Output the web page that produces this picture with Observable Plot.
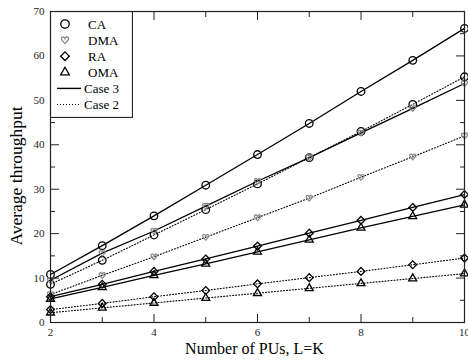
<!DOCTYPE html>
<html>
<head>
<meta charset="utf-8">
<script src="https://cdn.jsdelivr.net/npm/d3@7"></script>
<script src="https://cdn.jsdelivr.net/npm/@observablehq/plot@0.6"></script>
<style>
  html, body { margin: 0; padding: 0; background: #fff; }
  #wrap { position: relative; width: 468px; height: 363px; font-family: "Liberation Serif", "Times New Roman", serif; }
  #legend { position: absolute; left: 50px; top: 11px; }
</style>
</head>
<body>
<div id="wrap"></div>
<script>
// Number of PUs (L = K)
const pus = [2, 3, 4, 5, 6, 7, 8, 9, 10];

// Case 3 (solid lines)
const caCase3  = [10.8, 17.3, 24.0, 30.9, 37.8, 44.8, 52.0, 59.0, 66.2];
const dmaCase3 = [9.5, 15.6, 20.6, 26.2, 31.8, 37.1, 42.7, 48.2, 53.8];
const raCase3  = [5.8, 8.6, 11.5, 14.3, 17.2, 20.1, 23.0, 25.9, 28.8];
const omaCase3 = [5.3, 7.9, 10.6, 13.2, 15.9, 18.6, 21.3, 23.9, 26.5];

// Case 2 (dotted lines)
const caCase2  = [8.6, 14.0, 19.7, 25.4, 31.2, 37.1, 43.0, 49.1, 55.3];
const dmaCase2 = [6.3, 10.6, 14.8, 19.2, 23.6, 28.0, 32.7, 37.3, 42.0];
const raCase2  = [2.9, 4.3, 5.8, 7.2, 8.7, 10.1, 11.5, 13.0, 14.5];
const omaCase2 = [2.2, 3.3, 4.4, 5.5, 6.6, 7.7, 8.8, 9.9, 11.0];

// Tick values
const xMajor = [2, 4, 6, 8, 10];
const xMinor = [3, 5, 7, 9];
const yMajor = [0, 10, 20, 30, 40, 50, 60, 70];
const yMinor = [5, 15, 25, 35, 45, 55, 65];

const schemes = ["CA", "DMA", "RA", "OMA"];
const cases = ["Case 3", "Case 2"];

// heart-shaped custom symbol
const heart = {
  draw(ctx, size) {
    const s = Math.sqrt(size / Math.PI);
    ctx.moveTo(0, s * 0.95);
    ctx.bezierCurveTo(-s * 0.35, s * 0.55, -s, s * 0.05, -s, -s * 0.4);
    ctx.bezierCurveTo(-s, -s * 0.95, -s * 0.2, -s * 1.05, 0, -s * 0.45);
    ctx.bezierCurveTo(s * 0.2, -s * 1.05, s, -s * 0.95, s, -s * 0.4);
    ctx.bezierCurveTo(s, s * 0.05, s * 0.35, s * 0.55, 0, s * 0.95);
    ctx.closePath();
  }
};

const symbolOf = {CA: d3.symbolCircle, DMA: heart, RA: d3.symbolDiamond2, OMA: d3.symbolTriangle2};
const colorOf = {CA: "#000", DMA: "#8a8a8a", RA: "#000", OMA: "#000"};
const rOf = {CA: 3.8, DMA: 3.1, RA: 3.5, OMA: 3.8};

const seriesValues = {
  "CA|Case 3": caCase3, "DMA|Case 3": dmaCase3, "RA|Case 3": raCase3, "OMA|Case 3": omaCase3,
  "CA|Case 2": caCase2, "DMA|Case 2": dmaCase2, "RA|Case 2": raCase2, "OMA|Case 2": omaCase2
};

const rows = [];
for (const c of cases) for (const s of schemes) {
  seriesValues[s + "|" + c].forEach((v, i) => rows.push({scheme: s, case: c, x: pus[i], y: v, key: s + "|" + c}));
}

const font = "Liberation Serif";

const lineMarks = cases.map(c => Plot.line(rows.filter(d => d.case === c), {
  x: "x", y: "y", z: "key",
  stroke: "#000",
  strokeWidth: c === "Case 3" ? 1.3 : 1.1,
  strokeDasharray: c === "Case 3" ? null : "1,2"
}));

const dotMarks = schemes.map(s => Plot.dot(rows.filter(d => d.scheme === s), {
  x: "x", y: "y",
  symbol: () => symbolOf[s],
  r: rOf[s],
  stroke: colorOf[s],
  fill: "none",
  strokeWidth: 1.3
}));

const chart = Plot.plot({
  width: 468,
  height: 363,
  marginLeft: 50,
  marginRight: 4,
  marginTop: 11,
  marginBottom: 41,
  style: {fontFamily: font, background: "#fff", color: "#000"},
  x: {domain: [2, 10], label: null},
  y: {domain: [0, 70], label: null},
  symbol: {type: "identity"},
  marks: [
    ...lineMarks,
    ...dotMarks,
    // inward ticks, mirrored on all four sides
    Plot.axisX(xMajor, {anchor: "bottom", tickSize: -8, fill: "none", stroke: "#222", label: null}),
    Plot.axisX(xMinor, {anchor: "bottom", tickSize: -5, fill: "none", stroke: "#222", label: null}),
    Plot.axisX(xMajor, {anchor: "top", tickSize: -8, fill: "none", stroke: "#222", label: null}),
    Plot.axisX(xMinor, {anchor: "top", tickSize: -5, fill: "none", stroke: "#222", label: null}),
    Plot.axisY(yMajor, {anchor: "left", tickSize: -9, fill: "none", stroke: "#222", label: null}),
    Plot.axisY(yMinor, {anchor: "left", tickSize: -5, fill: "none", stroke: "#222", label: null}),
    Plot.axisY(yMajor, {anchor: "right", tickSize: -9, fill: "none", stroke: "#222", label: null}),
    Plot.axisY(yMinor, {anchor: "right", tickSize: -5, fill: "none", stroke: "#222", label: null}),
    // tick labels
    Plot.axisX(xMajor, {anchor: "bottom", tickSize: 0, tickPadding: 6, fontSize: 11, label: null, fill: "#222"}),
    Plot.axisY(yMajor, {anchor: "left", tickSize: 0, tickPadding: 6, fontSize: 11, label: null, fill: "#222"}),
    Plot.frame({stroke: "#222", strokeWidth: 1.2}),
    // axis titles
    Plot.text(["Number of PUs, L=K"], {frameAnchor: "bottom", textAnchor: "middle", dy: 31, dx: -3, fontSize: 16, fill: "#000"}),
    Plot.text(["Average throughput"], {frameAnchor: "left", textAnchor: "middle", rotate: -90, dx: -34, dy: 9, fontSize: 17.5, fill: "#000"})
  ]
});

const wrap = document.getElementById("wrap");
wrap.appendChild(chart);

// Legend overlay
const legendItems = [
  {label: "CA", symbol: d3.symbolCircle, r: 4.2, color: "#000"},
  {label: "DMA", symbol: heart, r: 3.6, color: "#8a8a8a"},
  {label: "RA", symbol: d3.symbolDiamond2, r: 3.9, color: "#000"},
  {label: "OMA", symbol: d3.symbolTriangle2, r: 4.2, color: "#000"},
  {label: "Case 3", line: null},
  {label: "Case 2", line: "1,2"}
];
const lw = 82, lh = 106;
const lsvg = d3.create("svg").attr("id", "legend").attr("width", lw + 1).attr("height", lh + 1)
  .style("font-family", font);
lsvg.append("rect").attr("x", 0.5).attr("y", 0.5).attr("width", lw).attr("height", lh)
  .attr("fill", "#fff").attr("stroke", "#222").attr("stroke-width", 1.2);
legendItems.forEach((it, i) => {
  const cy = 13 + i * 16.1;
  const g = lsvg.append("g");
  if (it.symbol) {
    g.append("path")
      .attr("d", d3.symbol(it.symbol, Math.PI * it.r * it.r)())
      .attr("transform", `translate(15,${cy})`)
      .attr("fill", "none").attr("stroke", it.color).attr("stroke-width", 1.3);
  } else {
    g.append("line").attr("x1", 7).attr("x2", 31).attr("y1", cy).attr("y2", cy)
      .attr("stroke", "#000").attr("stroke-width", it.line ? 1.1 : 1.4)
      .attr("stroke-dasharray", it.line);
  }
  g.append("text").attr("x", it.symbol ? 38 : 34).attr("y", cy).attr("dy", "0.35em")
    .attr("font-size", 13).attr("fill", "#000").text(it.label);
});
wrap.appendChild(lsvg.node());
</script>
</body>
</html>
